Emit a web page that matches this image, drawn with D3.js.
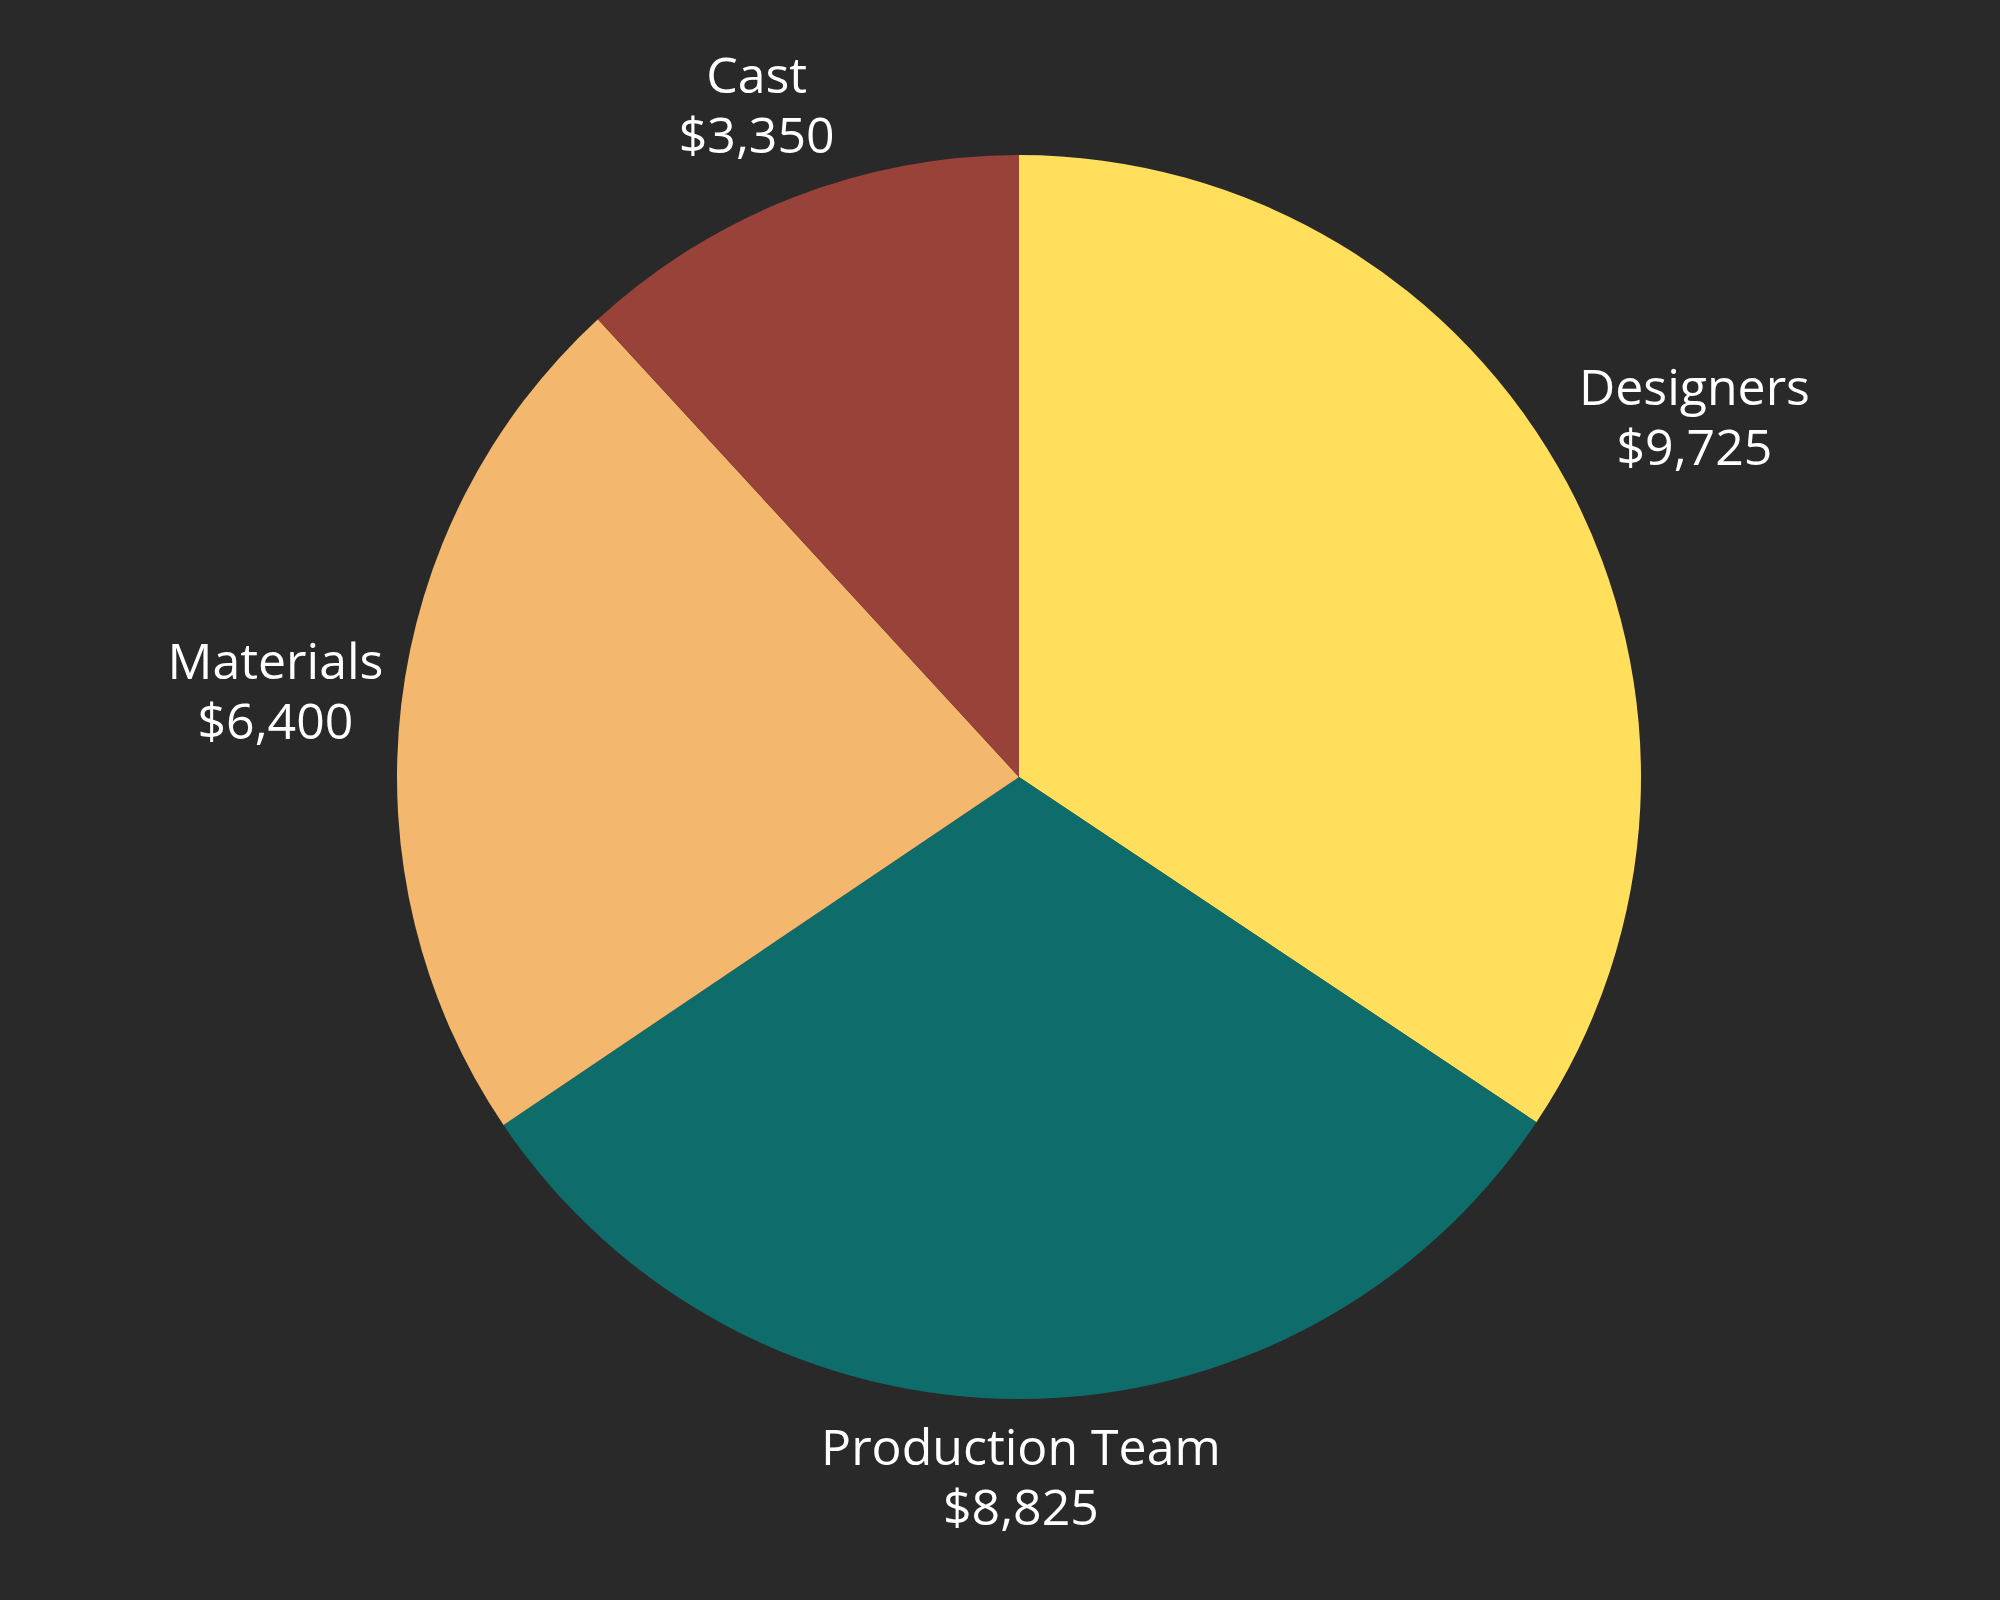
<!DOCTYPE html>
<html>
<head>
<meta charset="utf-8">
<script src="https://cdn.jsdelivr.net/npm/d3@7"></script>
<style>
  html, body { margin: 0; padding: 0; background: #292929; }
  svg { display: block; }
</style>
</head>
<body>
<svg id="chart"></svg>
<script>
// budget split
var categories = ["Designers", "Production Team", "Materials", "Cast"];
var amounts = [9725, 8825, 6400, 3350];
var colors = ["#ffdf5c", "#0e6c6a", "#f3b86d", "#98423a"];

var width = 2000, height = 1600;
var cx = 1019, cy = 777, radius = 622;
var labelGap = 12, lineStep = 60;

var svg = d3.select("#chart")
  .attr("width", width)
  .attr("height", height);

svg.append("rect")
  .attr("width", width)
  .attr("height", height)
  .attr("fill", "#292929");

var data = categories.map(function(c, i) {
  return { name: c, value: amounts[i], color: colors[i] };
});

var pie = d3.pie()
  .sort(null)
  .value(function(d) { return d.value; });

var arc = d3.arc()
  .innerRadius(0)
  .outerRadius(radius);

var g = svg.append("g")
  .attr("transform", "translate(" + cx + "," + cy + ")");

var slices = pie(data);

g.selectAll("path.slice")
  .data(slices)
  .enter()
  .append("path")
  .attr("class", "slice")
  .attr("d", arc)
  .attr("fill", function(d) { return d.data.color; });

var money = d3.format("$,");

// labels sit just outside the rim, pushed out by half their box
var labels = g.selectAll("g.label")
  .data(slices)
  .enter()
  .append("g")
  .attr("class", "label");

labels.each(function(d) {
  var lab = d3.select(this);
  var t = lab.append("text")
    .attr("text-anchor", "middle")
    .attr("fill", "#ffffff")
    .style("font-family", "'Open Sans', 'Noto Sans', sans-serif")
    .style("font-size", "50px");
  t.append("tspan").attr("x", 0).attr("y", 0).text(d.data.name);
  t.append("tspan").attr("x", 0).attr("y", lineStep).text(money(d.data.value));

  var box = t.node().getBBox();
  var hw = box.width / 2, hh = box.height / 2;
  var mid = (d.startAngle + d.endAngle) / 2;
  var dx = Math.sin(mid), dy = -Math.cos(mid);
  var dist = radius + labelGap + Math.abs(dx) * hw + Math.abs(dy) * hh;
  var px = dx * dist, py = dy * dist;
  // shift so the box centre lands on (px, py)
  var ox = px - (box.x + hw), oy = py - (box.y + hh);
  lab.attr("transform", "translate(" + ox + "," + oy + ")");
});
</script>
</body>
</html>
